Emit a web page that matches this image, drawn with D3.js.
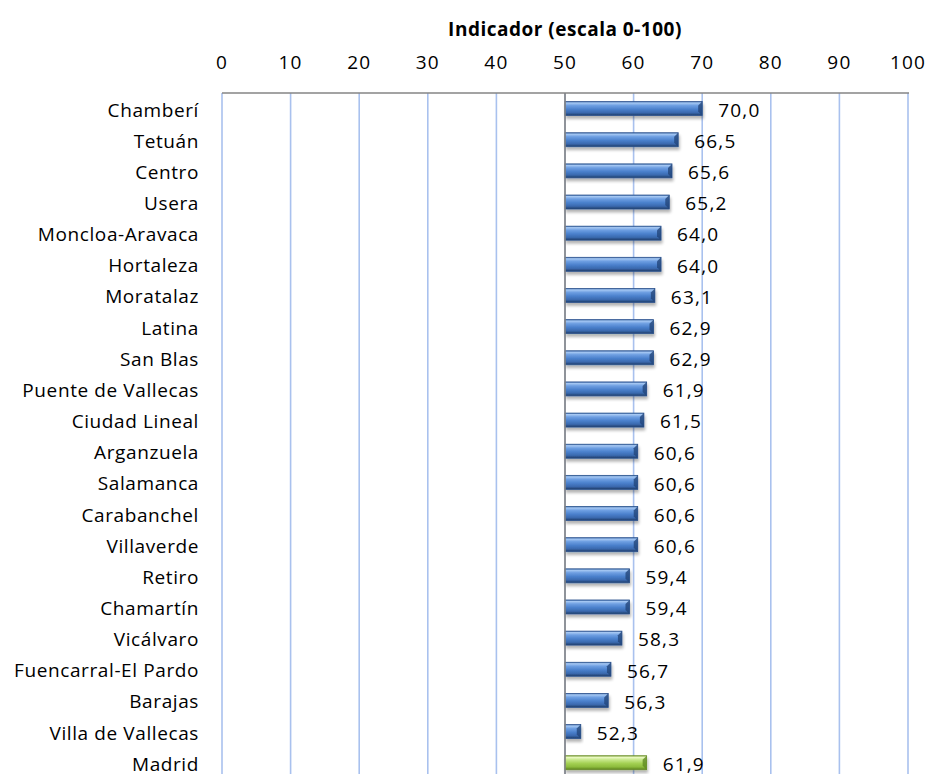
<!DOCTYPE html>
<html>
<head>
<meta charset="utf-8">
<script src="https://cdn.jsdelivr.net/npm/d3@7"></script>
<style>
  html, body { margin: 0; padding: 0; background: #fff; }
  text { font-family: "Open Sans", Lato, sans-serif; fill: #000; }
</style>
</head>
<body>
<svg id="chart" width="929" height="774"></svg>
<script>
// district names, top to bottom as in the picture
const districts = [
  'Chamberí', 'Tetuán', 'Centro', 'Usera', 'Moncloa-Aravaca', 'Hortaleza',
  'Moratalaz', 'Latina', 'San Blas', 'Puente de Vallecas', 'Ciudad Lineal',
  'Arganzuela', 'Salamanca', 'Carabanchel', 'Villaverde', 'Retiro',
  'Chamartín', 'Vicálvaro', 'Fuencarral-El Pardo', 'Barajas',
  'Villa de Vallecas', 'Madrid'
]
const values = [
  70.0, 66.5, 65.6, 65.2, 64.0, 64.0, 63.1, 62.9, 62.9, 61.9, 61.5,
  60.6, 60.6, 60.6, 60.6, 59.4, 59.4, 58.3, 56.7, 56.3, 52.3, 61.9
]
const ticks = [0, 10, 20, 30, 40, 50, 60, 70, 80, 90, 100]
const baseline = 50
const titleText = 'Indicador (escala 0-100)'

const svg = d3.select('#chart')

// plot area (bottom runs off the picture, as in the original)
const plotLeft = 222, plotRight = 908, plotTop = 93
const band = 31.15
const plotBottom = plotTop + band * districts.length

const x = d3.scaleLinear().domain([0, 100]).range([plotLeft, plotRight])
const y = d3.scaleBand().domain(districts).range([plotTop, plotBottom]).paddingInner(0).paddingOuter(0)
const mid = d => y(d) + band / 2

// gradients for the bevelled bars
const defs = svg.append('defs')
function barGradient(id, stops) {
  const g = defs.append('linearGradient').attr('id', id)
    .attr('x1', 0).attr('y1', 0).attr('x2', 0).attr('y2', 1)
  stops.forEach(s => g.append('stop').attr('offset', s[0]).attr('stop-color', s[1]))
}
barGradient('gBlue', [[0, '#3d6aa8'], [0.1, '#a6c8f3'], [0.28, '#6e9fe2'], [0.55, '#4a80cc'], [0.8, '#3a69ae'], [1, '#1e3b66']])
barGradient('gGreen', [[0, '#7ea43a'], [0.1, '#eefbc8'], [0.28, '#c8e88c'], [0.55, '#a3d052'], [0.8, '#8cbb3c'], [1, '#5a7f1e']])
const shadow = defs.append('filter').attr('id', 'shadow')
  .attr('x', '-10%').attr('y', '-50%').attr('width', '130%').attr('height', '250%')
shadow.append('feGaussianBlur').attr('in', 'SourceAlpha').attr('stdDeviation', 1.6)
shadow.append('feOffset').attr('dx', 1).attr('dy', 3).attr('result', 'b')
shadow.append('feComponentTransfer').append('feFuncA').attr('type', 'linear').attr('slope', 0.3)
const merge = shadow.append('feMerge')
merge.append('feMergeNode')
merge.append('feMergeNode').attr('in', 'SourceGraphic')

// title + top axis labels
svg.append('text')
  .attr('x', x(50)).attr('y', 36)
  .attr('text-anchor', 'middle')
  .style('font-size', '19px').style('font-weight', 'bold')
  .style('letter-spacing', '0.5px')
  .text(titleText)

svg.append('g').selectAll('text').data(ticks).join('text')
  .attr('x', d => x(d)).attr('y', 69)
  .attr('text-anchor', 'middle')
  .style('font-size', '19px').style('letter-spacing', '1.2px')
  .text(d => d)

// vertical gridlines
svg.append('g').selectAll('line').data(ticks).join('line')
  .attr('x1', d => x(d)).attr('x2', d => x(d))
  .attr('y1', plotTop).attr('y2', plotBottom)
  .attr('stroke', '#a9c1ee').attr('stroke-width', 1.6)

// top border
svg.append('line')
  .attr('x1', plotLeft).attr('x2', plotRight + 1).attr('y1', plotTop).attr('y2', plotTop)
  .attr('stroke', '#858585').attr('stroke-width', 1.6)

// category labels
svg.append('g').selectAll('text').data(districts).join('text')
  .attr('x', 199).attr('y', d => mid(d) + 8)
  .attr('text-anchor', 'end')
  .style('font-size', '19px').style('letter-spacing', '0.6px')
  .text(d => d)

// bars
const barH = 14
const bars = svg.append('g').selectAll('g').data(districts).join('g')
  .attr('filter', 'url(#shadow)')
bars.append('rect')
  .attr('x', x(baseline))
  .attr('y', d => mid(d) - barH / 2)
  .attr('width', (d, i) => x(values[i]) - x(baseline))
  .attr('height', barH)
  .attr('fill', d => d === 'Madrid' ? 'url(#gGreen)' : 'url(#gBlue)')
  .attr('stroke', d => d === 'Madrid' ? '#6a8f2a' : '#2e5590')
  .attr('stroke-width', 0.8)
// bevel at the end of each bar
bars.append('path')
  .attr('d', (d, i) => {
    const x1 = x(values[i]), yt = mid(d) - barH / 2, b = 4
    return `M${x1 - b},${yt + b}L${x1},${yt}L${x1},${yt + barH}L${x1 - b},${yt + barH - b}Z`
  })
  .attr('fill', d => d === 'Madrid' ? '#5f8a22' : '#23467a')
  .attr('opacity', 0.8)

// baseline axis at 50
svg.append('line')
  .attr('x1', x(baseline)).attr('x2', x(baseline))
  .attr('y1', plotTop).attr('y2', plotBottom)
  .attr('stroke', '#858585').attr('stroke-width', 1.6)

// value labels
svg.append('g').selectAll('text').data(districts).join('text')
  .attr('x', (d, i) => x(values[i]) + 16)
  .attr('y', d => mid(d) + 8.3)
  .style('font-size', '19px').style('letter-spacing', '1.2px')
  .text((d, i) => d3.format('.1f')(values[i]).replace('.', ','))
</script>
</body>
</html>
